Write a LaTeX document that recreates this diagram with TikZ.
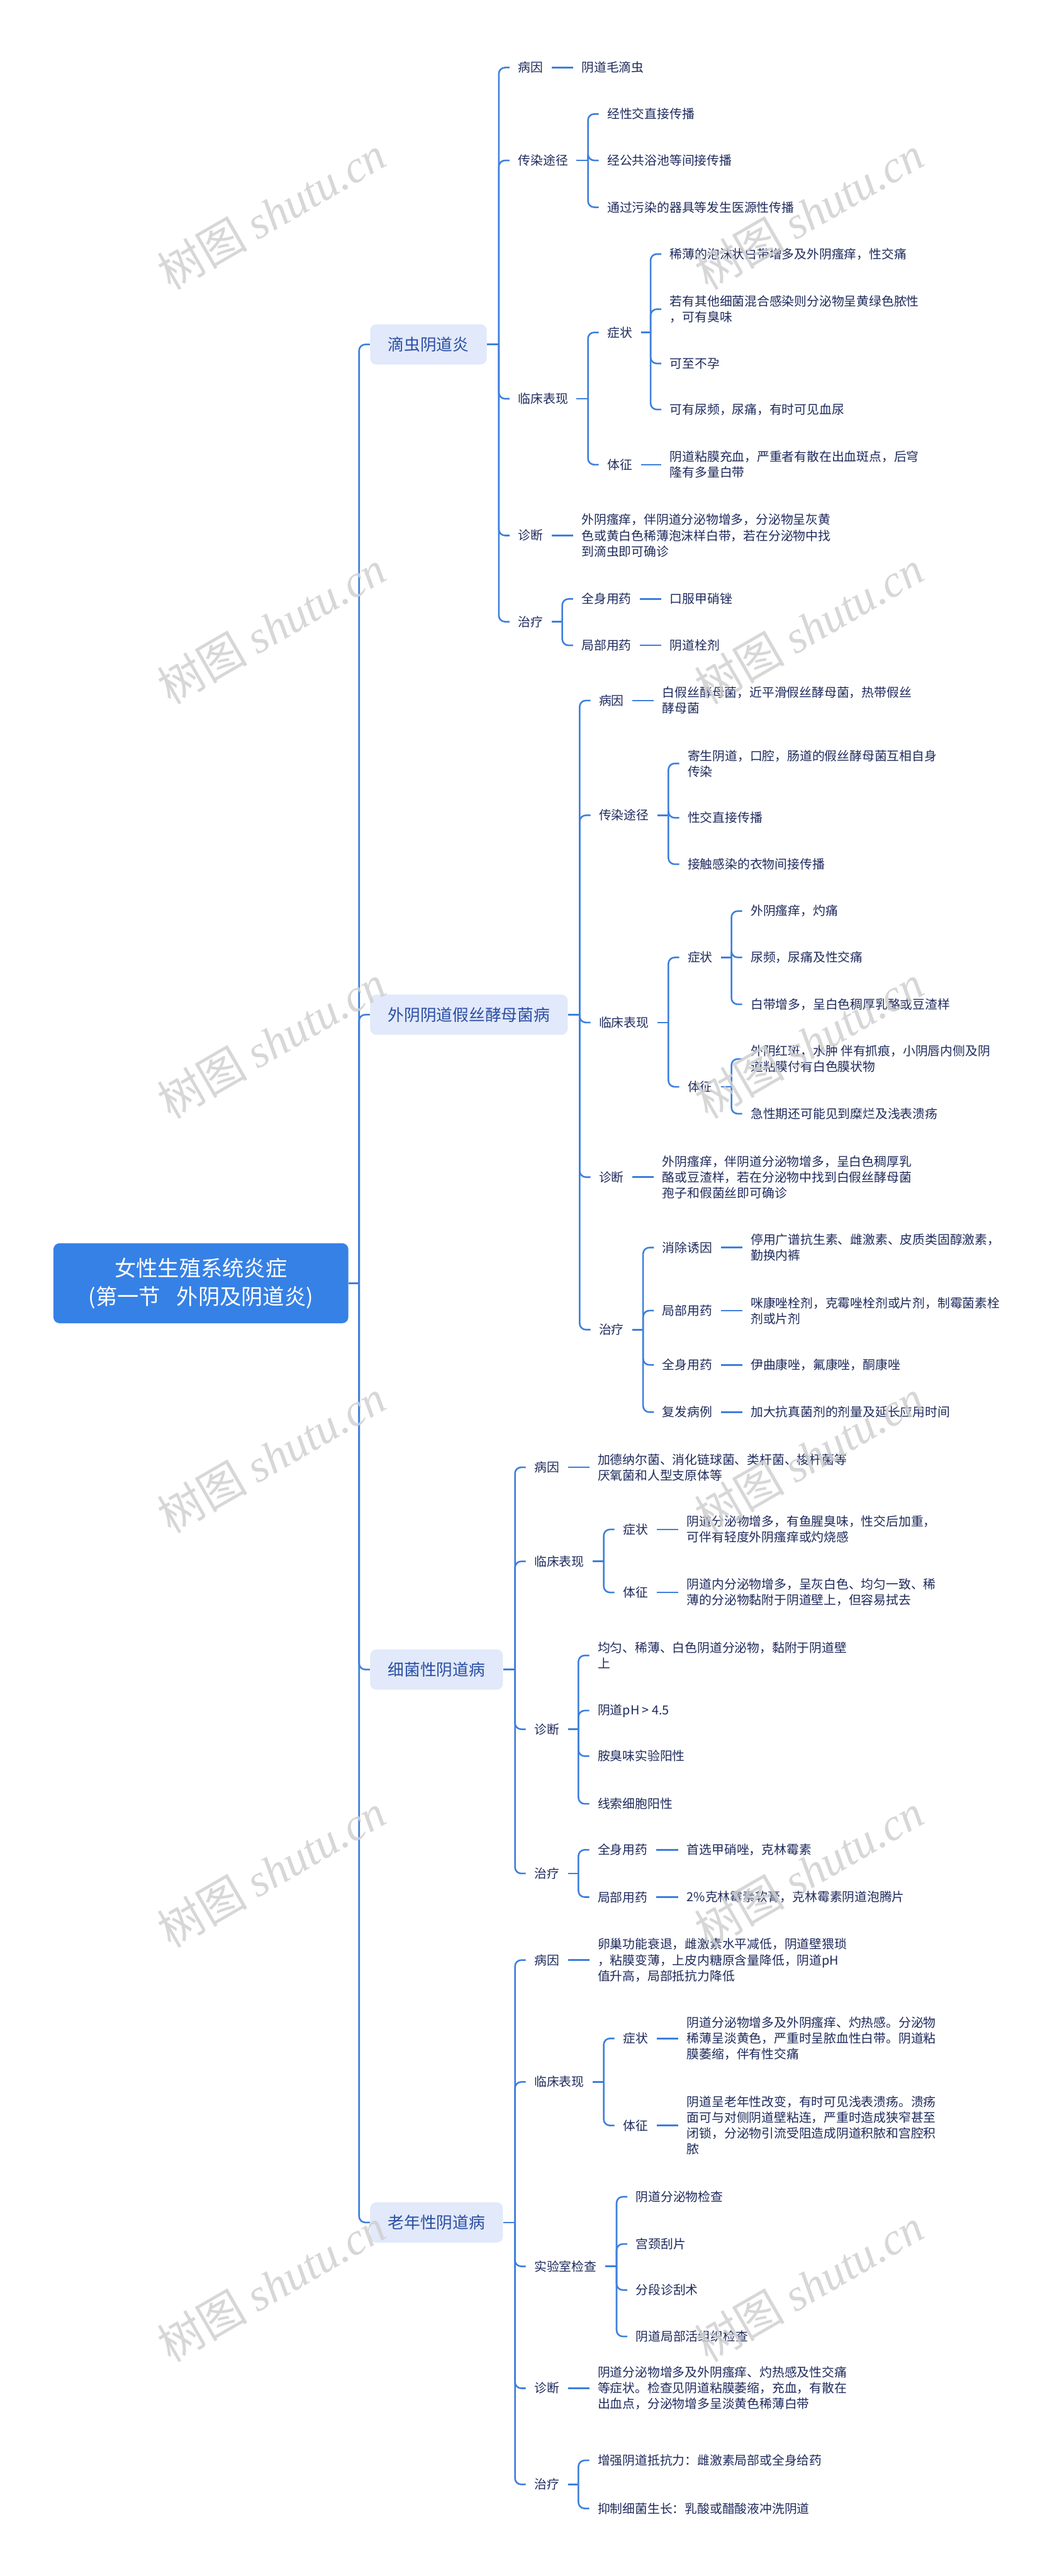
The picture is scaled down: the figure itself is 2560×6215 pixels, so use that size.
\documentclass[tikz,border=0pt]{standalone}
\usepackage{fontspec}
\setmainfont{Noto Sans CJK SC}
\newfontfamily\wmlatin{Liberation Serif}
\newfontfamily\wmcjk{Noto Sans CJK SC}
\definecolor{lineblue}{HTML}{3D7FDD}
\definecolor{rootblue}{HTML}{3681E6}
\definecolor{lonefill}{HTML}{E1E9FA}
\definecolor{lonetext}{HTML}{2A4EA3}
\definecolor{leaftext}{HTML}{1E2A5C}
\definecolor{wmgray}{HTML}{D0D0D0}
\tikzset{
  conn/.style={draw=lineblue, line width=1.1pt, rounded corners=0.15cm},
  txt/.style={anchor=west, inner xsep=0.2cm, inner ysep=1pt, text=leaftext, font=\fontsize{8.54pt}{10.81pt}\selectfont, align=left},
  lone/.style={anchor=west, fill=lonefill, rounded corners=0.15cm, inner xsep=0.43cm, inner ysep=0pt, minimum height=0.97cm, text=lonetext, font=\fontsize{11.1pt}{13pt}\selectfont},
  rootbox/.style={fill=rootblue, rounded corners=0.15cm, minimum width=7.11cm, minimum height=1.93cm, text=white, align=center, font=\fontsize{14.8pt}{19.35pt}\selectfont},
  wm/.style={rotate=30, text=wmgray, opacity=0.85, font=\fontsize{31pt}{31pt}\selectfont, inner sep=0pt}
}
\newcommand\mmfan[3]{%
  \coordinate (#1-bar) at ([xshift=-0.26cm]#2.west |- #1.east);
  \draw[conn] (#1.east) -- (#1-bar);
  \foreach \mmchild in {#3}{\draw[conn] (#1-bar) |- (\mmchild.west);}
}
\newcommand\mmlink[2]{\draw[conn] (#1.east) -- (#2.west);}
\begin{document}
\begin{tikzpicture}[x=0.01cm, y=-0.01cm]
\fill[white] (0,0) rectangle (2560,6215);
\useasboundingbox (0,0) rectangle (2560,6215);

% root
\node[rootbox] (root) at (484.5,3096) {女性生殖系统炎症\\(第一节\hspace{0.75em}外阴及阴道炎)};

% level 1
\node[lone] (n1) at (892,831) {滴虫阴道炎};
\node[lone] (n2) at (892,2448) {外阴阴道假丝酵母菌病};
\node[lone] (n3) at (892,4028) {细菌性阴道病};
\node[lone] (n4) at (892,5362) {老年性阴道病};

% section 1
\node[txt] (a1) at (1229,163) {病因};
\node[txt] (a1c) at (1382,163) {阴道毛滴虫};
\node[txt] (a2) at (1229,387) {传染途径};
\node[txt] (a2a) at (1444,275) {经性交直接传播};
\node[txt] (a2b) at (1444,387) {经公共浴池等间接传播};
\node[txt] (a2c) at (1444,500) {通过污染的器具等发生医源性传播};
\node[txt] (a3) at (1229,962) {临床表现};
\node[txt] (a3a) at (1444,802) {症状};
\node[txt] (a3a1) at (1595,613) {稀薄的泡沫状白带增多及外阴瘙痒，性交痛};
\node[txt] (a3a2) at (1595,746) {若有其他细菌混合感染则分泌物呈黄绿色脓性\\，可有臭味};
\node[txt] (a3a3) at (1595,877) {可至不孕};
\node[txt] (a3a4) at (1595,988) {可有尿频，尿痛，有时可见血尿};
\node[txt] (a3b) at (1444,1121) {体征};
\node[txt] (a3b1) at (1595,1121) {阴道粘膜充血，严重者有散在出血斑点，后穹\\隆有多量白带};
\node[txt] (a4) at (1229,1292) {诊断};
\node[txt] (a4c) at (1382,1292) {外阴瘙痒，伴阴道分泌物增多，分泌物呈灰黄\\色或黄白色稀薄泡沫样白带，若在分泌物中找\\到滴虫即可确诊};
\node[txt] (a5) at (1229,1500) {治疗};
\node[txt] (a5a) at (1382,1445) {全身用药};
\node[txt] (a5a1) at (1595,1445) {口服甲硝锉};
\node[txt] (a5b) at (1382,1557) {局部用药};
\node[txt] (a5b1) at (1595,1557) {阴道栓剂};

% section 2
\node[txt] (b1) at (1424,1690) {病因};
\node[txt] (b1c) at (1577,1690) {白假丝酵母菌，近平滑假丝酵母菌，热带假丝\\酵母菌};
\node[txt] (b2) at (1424,1967) {传染途径};
\node[txt] (b2a) at (1638,1842) {寄生阴道，口腔，肠道的假丝酵母菌互相自身\\传染};
\node[txt] (b2b) at (1638,1973) {性交直接传播};
\node[txt] (b2c) at (1638,2085) {接触感染的衣物间接传播};
\node[txt] (b3) at (1424,2467) {临床表现};
\node[txt] (b3a) at (1638,2310) {症状};
\node[txt] (b3a1) at (1790,2198) {外阴瘙痒，灼痛};
\node[txt] (b3a2) at (1790,2310) {尿频，尿痛及性交痛};
\node[txt] (b3a3) at (1790,2423) {白带增多，呈白色稠厚乳酪或豆渣样};
\node[txt] (b3b) at (1638,2622) {体征};
\node[txt] (b3b1) at (1790,2555) {外阴红斑，水肿 伴有抓痕，小阴唇内侧及阴\\道粘膜付有白色膜状物};
\node[txt] (b3b2) at (1790,2687) {急性期还可能见到糜烂及浅表溃疡};
\node[txt] (b4) at (1424,2840) {诊断};
\node[txt] (b4c) at (1577,2840) {外阴瘙痒，伴阴道分泌物增多，呈白色稠厚乳\\酪或豆渣样，若在分泌物中找到白假丝酵母菌\\孢子和假菌丝即可确诊};
\node[txt] (b5) at (1424,3208) {治疗};
\node[txt] (b5a) at (1577,3010) {消除诱因};
\node[txt] (b5a1) at (1790,3010) {停用广谱抗生素、雌激素、皮质类固醇激素，\\勤换内裤};
\node[txt] (b5b) at (1577,3162) {局部用药};
\node[txt] (b5b1) at (1790,3162) {咪康唑栓剂，克霉唑栓剂或片剂，制霉菌素栓\\剂或片剂};
\node[txt] (b5c) at (1577,3293) {全身用药};
\node[txt] (b5c1) at (1790,3293) {伊曲康唑，氟康唑，酮康唑};
\node[txt] (b5d) at (1577,3407) {复发病例};
\node[txt] (b5d1) at (1790,3407) {加大抗真菌剂的剂量及延长应用时间};

% section 3
\node[txt] (c1) at (1268,3540) {病因};
\node[txt] (c1c) at (1421,3540) {加德纳尔菌、消化链球菌、类杆菌、梭杆菌等\\厌氧菌和人型支原体等};
\node[txt] (c2) at (1268,3767) {临床表现};
\node[txt] (c2a) at (1482,3690) {症状};
\node[txt] (c2a1) at (1636,3690) {阴道分泌物增多，有鱼腥臭味，性交后加重，\\可伴有轻度外阴瘙痒或灼烧感};
\node[txt] (c2b) at (1482,3842) {体征};
\node[txt] (c2b1) at (1636,3842) {阴道内分泌物增多，呈灰白色、均匀一致、稀\\薄的分泌物黏附于阴道壁上，但容易拭去};
\node[txt] (c3) at (1268,4172) {诊断};
\node[txt] (c3a) at (1421,3994) {均匀、稀薄、白色阴道分泌物，黏附于阴道壁\\上};
\node[txt] (c3b) at (1421,4127) {阴道pH > 4.5};
\node[txt] (c3c) at (1421,4237) {胺臭味实验阳性};
\node[txt] (c3d) at (1421,4352) {线索细胞阳性};
\node[txt] (c4) at (1268,4520) {治疗};
\node[txt] (c4a) at (1421,4463) {全身用药};
\node[txt] (c4a1) at (1636,4463) {首选甲硝唑，克林霉素};
\node[txt] (c4b) at (1421,4577) {局部用药};
\node[txt] (c4b1) at (1636,4577) {2\%克林霉素软膏，克林霉素阴道泡腾片};

% section 4
\node[txt] (d1) at (1268,4729) {病因};
\node[txt] (d1c) at (1421,4729) {卵巢功能衰退，雌激素水平减低，阴道壁猥琐\\，粘膜变薄，上皮内糖原含量降低，阴道pH\\值升高，局部抵抗力降低};
\node[txt] (d2) at (1268,5023) {临床表现};
\node[txt] (d2a) at (1482,4918) {症状};
\node[txt] (d2a1) at (1636,4918) {阴道分泌物增多及外阴瘙痒、灼热感。分泌物\\稀薄呈淡黄色，严重时呈脓血性白带。阴道粘\\膜萎缩，伴有性交痛};
\node[txt] (d2b) at (1482,5128) {体征};
\node[txt] (d2b1) at (1636,5128) {阴道呈老年性改变，有时可见浅表溃疡。溃疡\\面可与对侧阴道壁粘连，严重时造成狭窄甚至\\闭锁，分泌物引流受阻造成阴道积脓和宫腔积\\脓};
\node[txt] (d3) at (1268,5468) {实验室检查};
\node[txt] (d3a) at (1513,5300) {阴道分泌物检查};
\node[txt] (d3b) at (1513,5414) {宫颈刮片};
\node[txt] (d3c) at (1513,5525) {分段诊刮术};
\node[txt] (d3d) at (1513,5637) {阴道局部活组织检查};
\node[txt] (d4) at (1268,5762) {诊断};
\node[txt] (d4c) at (1421,5762) {阴道分泌物增多及外阴瘙痒、灼热感及性交痛\\等症状。检查见阴道粘膜萎缩，充血，有散在\\出血点，分泌物增多呈淡黄色稀薄白带};
\node[txt] (d5) at (1268,5994) {治疗};
\node[txt] (d5a) at (1421,5936) {增强阴道抵抗力：雌激素局部或全身给药};
\node[txt] (d5b) at (1421,6052) {抑制细菌生长：乳酸或醋酸液冲洗阴道};

% connectors
\mmfan{root}{n1}{n1,n2,n3,n4}

\mmfan{n1}{a1}{a1,a2,a3,a4,a5}
\mmlink{a1}{a1c}
\mmfan{a2}{a2a}{a2a,a2b,a2c}
\mmfan{a3}{a3a}{a3a,a3b}
\mmfan{a3a}{a3a1}{a3a1,a3a2,a3a3,a3a4}
\mmlink{a3b}{a3b1}
\mmlink{a4}{a4c}
\mmfan{a5}{a5a}{a5a,a5b}
\mmlink{a5a}{a5a1}
\mmlink{a5b}{a5b1}

\mmfan{n2}{b1}{b1,b2,b3,b4,b5}
\mmlink{b1}{b1c}
\mmfan{b2}{b2a}{b2a,b2b,b2c}
\mmfan{b3}{b3a}{b3a,b3b}
\mmfan{b3a}{b3a1}{b3a1,b3a2,b3a3}
\mmfan{b3b}{b3b1}{b3b1,b3b2}
\mmlink{b4}{b4c}
\mmfan{b5}{b5a}{b5a,b5b,b5c,b5d}
\mmlink{b5a}{b5a1}
\mmlink{b5b}{b5b1}
\mmlink{b5c}{b5c1}
\mmlink{b5d}{b5d1}

\mmfan{n3}{c1}{c1,c2,c3,c4}
\mmlink{c1}{c1c}
\mmfan{c2}{c2a}{c2a,c2b}
\mmlink{c2a}{c2a1}
\mmlink{c2b}{c2b1}
\mmfan{c3}{c3a}{c3a,c3b,c3c,c3d}
\mmfan{c4}{c4a}{c4a,c4b}
\mmlink{c4a}{c4a1}
\mmlink{c4b}{c4b1}

\mmfan{n4}{d1}{d1,d2,d3,d4,d5}
\mmlink{d1}{d1c}
\mmfan{d2}{d2a}{d2a,d2b}
\mmlink{d2a}{d2a1}
\mmlink{d2b}{d2b1}
\mmfan{d3}{d3a}{d3a,d3b,d3c,d3d}
\mmlink{d4}{d4c}
\mmfan{d5}{d5a}{d5a,d5b}

% watermarks
\foreach \wy in {513,1513,2513,3513,4513,5513}{
  \node[wm] (wml\wy) at (655,\wy) {{\wmcjk 树图} {\wmlatin\itshape shutu.cn}};
  \node[wm] (wmr\wy) at (1951,\wy) {{\wmcjk 树图} {\wmlatin\itshape shutu.cn}};
}
\end{tikzpicture}
\end{document}
